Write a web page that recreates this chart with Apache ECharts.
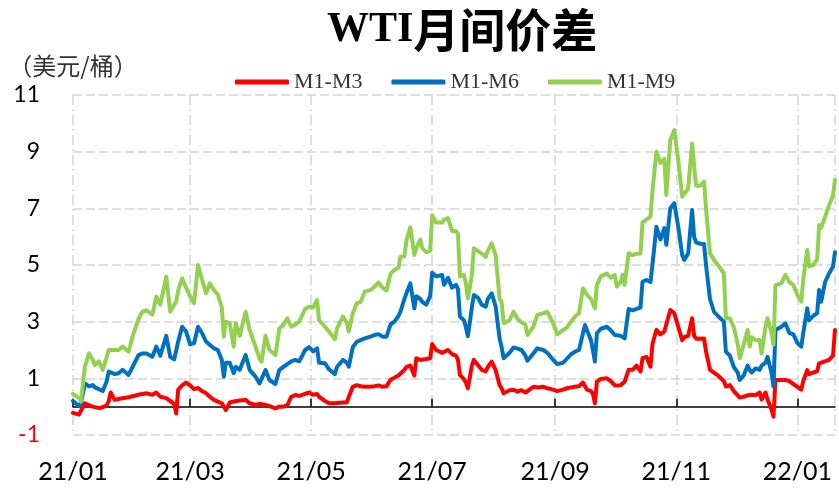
<!DOCTYPE html>
<html>
<head>
<meta charset="utf-8">
<title>WTI月间价差</title>
<script src="https://cdn.jsdelivr.net/npm/echarts@6/dist/echarts.min.js"></script>
<style>
  html, body { margin: 0; padding: 0; background: #fff; }
  #chart { width: 839px; height: 490px; }
</style>
</head>
<body>
<div id="chart"></div>
<script>
// 日期：距 2021-01-01 的天数
const dayOffsets = [
  3, 6, 7, 9, 11, 13, 14, 16, 18, 20, 21, 22, 24, 26, 28, 31, 33, 36, 38, 40,
  43, 45, 47, 50, 52, 54, 55, 56, 58, 60, 62, 64, 66, 68, 70, 72, 74, 76, 78, 79,
  80, 82, 83, 84, 85, 87, 90, 92, 95, 97, 98, 100, 102, 105, 107, 109, 111, 113, 115, 117,
  120, 122, 124, 126, 127, 130, 132, 135, 136, 139, 141, 142, 144, 146, 148, 150, 153, 155, 157, 159,
  161, 163, 165, 167, 168, 170, 171, 173, 175, 176, 178, 179, 181, 183, 184, 186, 189, 190, 192, 194,
  196, 197, 198, 200, 201, 202, 204, 205, 207, 209, 211, 212, 214, 216, 218, 219, 220, 223, 225, 227,
  229, 231, 232, 235, 237, 240, 242, 245, 247, 248, 250, 252, 254, 256, 258, 260, 261, 262, 264, 265,
  266, 267, 269, 272, 274, 276, 277, 279, 280, 281, 283, 285, 287, 289, 290, 292, 294, 295, 297, 299,
  301, 302, 304, 306, 308, 310, 311, 313, 315, 316, 317, 319, 321, 322, 324, 326, 328, 331, 332, 334,
  336, 338, 339, 341, 343, 344, 345, 347, 349, 350, 352, 353, 355, 356, 357, 360, 362, 364, 366, 368,
  370, 371, 373, 374, 376, 378, 379, 380, 382, 384, 386, 387
];

// M1-M3
const m1m3 = [
  -0.22, -0.28, -0.3, 0.12, 0.05, 0.0, -0.03, -0.05, -0.02, 0.05, 0.2, 0.5, 0.24, 0.27, 0.3, 0.33, 0.37, 0.42, 0.45, 0.47,
  0.42, 0.5, 0.35, 0.3, 0.2, 0.1, -0.24, 0.6, 0.75, 0.85, 0.75, 0.62, 0.66, 0.55, 0.47, 0.35, 0.24, 0.18, 0.12, 0.0,
  -0.12, 0.15, 0.2, 0.18, 0.2, 0.22, 0.24, 0.12, 0.06, 0.1, 0.08, 0.06, 0.02, -0.06, 0.0, 0.0, 0.05, 0.35, 0.41, 0.38,
  0.45, 0.5, 0.42, 0.45, 0.35, 0.2, 0.12, 0.12, 0.12, 0.15, 0.15, 0.35, 0.7, 0.76, 0.72, 0.7, 0.7, 0.72, 0.75, 0.7,
  0.72, 0.95, 1.02, 1.1, 1.12, 1.3, 1.4, 1.45, 1.1, 1.71, 1.65, 1.67, 1.68, 1.71, 2.21, 2.0, 1.9, 1.88, 2.0, 1.85,
  1.8, 1.65, 1.12, 0.97, 0.85, 0.65, 1.45, 1.65, 1.47, 1.3, 1.24, 1.4, 1.59, 1.29, 0.75, 0.65, 0.47, 0.58, 0.6, 0.53,
  0.58, 0.5, 0.47, 0.7, 0.68, 0.7, 0.65, 0.6, 0.55, 0.55, 0.6, 0.65, 0.68, 0.7, 0.72, 0.85, 0.85, 0.6, 0.55, 0.45,
  0.12, 0.88, 0.98, 1.0, 0.9, 0.75, 0.7, 0.76, 0.8, 0.88, 1.3, 1.3, 1.45, 1.24, 1.71, 1.76, 1.41, 2.2, 2.71, 2.55,
  2.65, 2.6, 3.41, 3.3, 2.82, 2.35, 2.45, 2.5, 3.12, 2.5, 2.4, 2.4, 2.41, 1.95, 1.3, 1.2, 1.1, 0.9, 0.71, 0.76,
  0.55, 0.4, 0.32, 0.35, 0.4, 0.45, 0.42, 0.4, 0.5, 0.25, 0.5, 0.25, -0.1, -0.35, 0.94, 0.94, 0.94, 0.9, 0.8, 0.7,
  0.6, 0.9, 1.29, 1.15, 1.2, 1.25, 1.53, 1.5, 1.6, 1.65, 1.8, 2.71
];

// M1-M6
const m1m6 = [
  0.2, 0.02, 0.12, 0.82, 0.72, 0.76, 0.68, 0.62, 0.55, 0.9, 1.24, 1.2, 1.15, 1.18, 1.3, 1.12, 1.4, 1.82, 1.88, 1.88,
  1.76, 2.12, 1.8, 2.5, 1.76, 1.67, 1.67, 2.3, 2.82, 2.65, 2.2, 2.24, 2.82, 2.6, 2.3, 2.18, 2.06, 2.0, 1.65, 1.06,
  1.55, 1.55, 1.55, 1.18, 1.4, 1.3, 1.82, 1.3, 1.06, 0.82, 0.76, 1.29, 0.94, 0.8, 1.3, 1.4, 1.5, 1.6, 1.65, 1.6,
  2.0, 2.1, 1.95, 2.06, 1.55, 1.53, 1.32, 1.15, 1.4, 1.65, 1.55, 1.41, 2.1, 2.29, 2.35, 2.41, 2.47, 2.53, 2.56, 2.47,
  2.47, 2.9, 3.0, 3.2, 3.35, 3.8, 4.0, 4.35, 3.47, 3.9, 3.8, 3.7, 3.6, 3.9, 4.73, 4.6, 4.65, 4.3, 4.55, 4.2,
  4.3, 4.15, 3.18, 3.05, 2.8, 2.49, 3.5, 3.94, 3.85, 3.6, 3.53, 3.8, 4.0, 3.53, 2.4, 2.1, 1.71, 1.9, 2.09, 2.05,
  2.0, 1.8, 1.62, 1.88, 2.06, 2.0, 1.9, 1.65, 1.5, 1.47, 1.55, 1.7, 1.85, 1.94, 2.0, 2.59, 2.88, 2.7, 2.35, 2.0,
  1.59, 2.59, 2.75, 2.82, 2.7, 2.53, 2.53, 2.5, 2.5, 2.41, 3.45, 3.4, 3.45, 3.5, 4.41, 4.47, 4.4, 5.0, 6.35, 5.9,
  6.3, 5.71, 7.0, 7.18, 6.35, 5.35, 5.18, 5.4, 6.94, 6.0, 5.8, 5.75, 5.74, 5.0, 3.8, 3.35, 3.2, 3.0, 1.94, 1.8,
  1.4, 1.2, 0.94, 1.1, 1.45, 1.3, 1.2, 1.35, 1.3, 1.45, 1.55, 1.76, 1.2, 0.71, 2.71, 2.82, 2.94, 2.6, 2.55, 2.25,
  2.12, 2.6, 3.47, 3.05, 3.2, 3.3, 4.12, 3.7, 4.4, 4.7, 4.95, 5.45
];

// M1-M9
const m1m9 = [
  0.45, 0.3, 0.18, 1.41, 1.88, 1.65, 1.47, 1.6, 1.3, 1.75, 2.0, 2.05, 2.0, 2.0, 2.12, 1.94, 2.47, 3.1, 3.35, 3.4,
  3.25, 3.88, 3.6, 4.59, 3.35, 3.6, 3.7, 4.1, 4.53, 4.2, 3.9, 3.65, 5.0, 4.5, 4.0, 4.35, 4.12, 3.95, 3.5, 2.47,
  3.0, 2.95, 3.0, 2.12, 2.95, 2.5, 3.35, 2.7, 2.12, 1.7, 1.59, 2.5, 2.0, 1.82, 2.76, 2.88, 3.12, 2.82, 2.9, 3.0,
  3.45, 3.53, 3.5, 3.76, 3.05, 2.82, 2.65, 2.38, 2.75, 3.18, 2.95, 2.65, 3.3, 3.65, 3.7, 4.06, 4.12, 4.24, 4.38, 4.2,
  4.1, 4.7, 4.82, 4.9, 5.29, 5.3, 5.85, 6.33, 5.35, 5.6, 5.9, 5.6, 5.45, 5.5, 6.76, 6.5, 6.5, 6.6, 6.65, 6.2,
  6.2, 6.1, 4.59, 4.65, 4.35, 3.82, 4.65, 5.59, 5.5, 5.4, 5.29, 5.5, 5.76, 5.35, 3.8, 3.7, 2.94, 3.05, 3.35, 3.1,
  2.98, 2.9, 2.53, 2.82, 3.24, 3.3, 3.35, 2.94, 2.55, 2.6, 2.7, 2.8, 3.0, 3.18, 3.3, 4.18, 4.18, 3.95, 3.8, 3.65,
  3.47, 4.29, 4.6, 4.7, 4.55, 4.65, 4.24, 4.4, 4.65, 4.3, 5.41, 5.35, 5.4, 5.41, 6.5, 6.6, 6.7, 7.6, 9.0, 8.6,
  8.75, 7.47, 9.41, 9.76, 8.7, 7.41, 7.5, 7.7, 9.29, 8.5, 7.8, 7.8, 7.94, 7.0, 5.41, 5.18, 5.0, 4.71, 3.12, 3.12,
  2.8, 2.2, 1.71, 2.2, 2.71, 2.12, 2.45, 2.35, 2.35, 1.88, 2.82, 3.12, 2.6, 2.18, 4.29, 4.35, 4.65, 4.4, 4.3, 3.95,
  3.71, 4.5, 5.53, 4.95, 5.0, 5.2, 6.41, 6.3, 6.71, 7.1, 7.45, 8.0
];

const seriesNames = ['M1-M3', 'M1-M6', 'M1-M9'];

const DAY = 864e5;
const base = new Date(2021, 0, 1);
const dayOf = dt => Math.round((dt - base) / DAY);
const xMin = dayOffsets[0];
const xMax = dayOffsets[dayOffsets.length - 1];
// 刻度：从首个交易日起每两个月
const monthTicks = [0, 2, 4, 6, 8, 10, 12].map(m => dayOf(new Date(2021, m, 4)));

const fmtDay = d => {
  const dt = new Date(2021, 0, 1 + Math.round(d));
  return String(dt.getFullYear()).slice(2) + '/' + String(dt.getMonth() + 1).padStart(2, '0');
};

const chart = echarts.init(document.getElementById('chart'));

const makeSeries = (name, values) => ({
  name,
  type: 'line',
  data: dayOffsets.map((d, i) => [d, values[i]]),
  showSymbol: false,
  symbol: 'none',
  lineStyle: { width: 4, cap: 'round', join: 'round' },
  emphasis: { disabled: true },
  xAxisIndex: 0
});

const option = {
  animation: false,
  color: ['#FF0000', '#0070C0', '#92D050'],
  title: {
    text: '{a|WTI}{b|月间价差}',
    left: 322,
    top: 2,
    textStyle: {
      rich: {
        a: { fontFamily: 'Liberation Serif', fontWeight: 'bold', fontSize: 42, color: '#000' },
        b: { fontFamily: 'Noto Sans CJK SC', fontWeight: 'bold', fontSize: 46, color: '#000' }
      }
    }
  },
  legend: {
    data: seriesNames,
    left: 230,
    top: 66,
    icon: 'roundRect',
    itemWidth: 54,
    itemHeight: 5,
    itemGap: 29,
    textStyle: { fontFamily: 'Liberation Serif', fontSize: 22, color: '#333' }
  },
  grid: { left: 73, right: 4, top: 95, bottom: 55 },
  xAxis: [
    {
      type: 'value',
      min: xMin,
      max: xMax,
      axisLine: { show: false, onZero: false },
      axisTick: { show: false, customValues: monthTicks.concat([xMax]) },
      axisLabel: {
        customValues: monthTicks,
        margin: 24,
        fontFamily: 'Lato',
        fontSize: 25,
        color: '#000',
        formatter: v => fmtDay(v)
      },
      splitLine: {
        show: true,
        lineStyle: { color: '#D4D4D4', width: 1.5, type: [10, 4, 2, 4] }
      }
    },
    {
      type: 'value',
      min: xMin,
      max: xMax,
      position: 'bottom',
      axisLine: { show: true, onZero: true, lineStyle: { color: '#000', width: 1.5 } },
      axisTick: { show: true, inside: true, length: 8, customValues: monthTicks, lineStyle: { color: '#000', width: 1.5 } },
      axisLabel: { show: false },
      splitLine: { show: false }
    }
  ],
  yAxis: {
    type: 'value',
    min: -1,
    max: 11,
    interval: 2,
    name: '（美元/桶）',
    nameLocation: 'end',
    nameGap: 17,
    nameTextStyle: { fontFamily: 'Noto Sans CJK SC', fontSize: 24, color: '#333' },
    axisLine: { show: false },
    axisTick: { show: false },
    axisLabel: {
      margin: 33,
      fontFamily: 'Lato',
      fontSize: 23,
      color: v => (Number(v) < 0 ? '#FF0000' : '#000')
    },
    splitLine: {
      show: true,
      lineStyle: { color: '#D4D4D4', width: 1.5, type: [9, 4] }
    }
  },
  series: [
    makeSeries(seriesNames[0], m1m3),
    makeSeries(seriesNames[1], m1m6),
    makeSeries(seriesNames[2], m1m9)
  ]
};

chart.setOption(option);
</script>
</body>
</html>
